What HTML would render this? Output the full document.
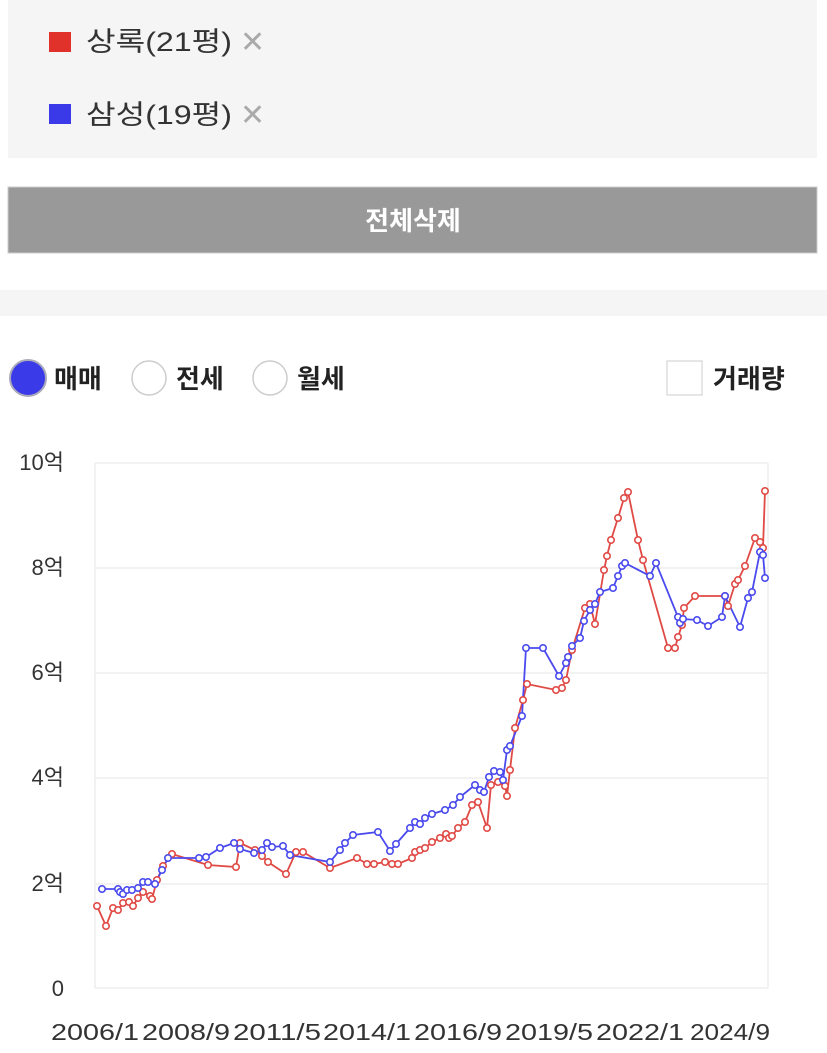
<!DOCTYPE html>
<html><head><meta charset="utf-8">
<style>
html,body{margin:0;padding:0;background:#fff;width:827px;height:1053px;overflow:hidden}
svg{display:block}
text{font-family:"Liberation Sans","Noto Sans CJK KR","NanumGothic",sans-serif}
</style></head>
<body>
<svg width="827" height="1053" viewBox="0 0 827 1053" xmlns="http://www.w3.org/2000/svg">
<rect x="8" y="0" width="809" height="158" fill="#f5f5f5"/>
<rect x="49" y="32" width="22" height="20" fill="#e0312a"/>
<text x="86" y="51" font-size="27" fill="#333" textLength="146" lengthAdjust="spacingAndGlyphs">상록(21평)</text>
<text x="240" y="52" font-size="30" fill="#aaa">✕</text>
<rect x="49" y="104" width="22" height="20" fill="#3a3ae8"/>
<text x="86" y="124" font-size="27" fill="#333" textLength="146" lengthAdjust="spacingAndGlyphs">삼성(19평)</text>
<text x="240" y="125" font-size="30" fill="#aaa">✕</text>
<rect x="8" y="187" width="809" height="66" fill="#999" stroke="#ccc"/>
<text x="413" y="230" font-size="26" font-weight="bold" fill="#fff" text-anchor="middle">전체삭제</text>
<rect x="0" y="290" width="827" height="26" fill="#f5f5f5"/>
<circle cx="28" cy="378" r="18" fill="#3a3ae8" stroke="#aab" stroke-width="2"/>
<text x="54" y="388" font-size="26" font-weight="bold" fill="#222">매매</text>
<circle cx="149" cy="378" r="17" fill="#fff" stroke="#ccc" stroke-width="1.5"/>
<text x="176" y="388" font-size="26" font-weight="bold" fill="#222">전세</text>
<circle cx="270" cy="378" r="17" fill="#fff" stroke="#ccc" stroke-width="1.5"/>
<text x="297" y="388" font-size="26" font-weight="bold" fill="#222">월세</text>
<rect x="667" y="361" width="35" height="34" fill="#fff" stroke="#ccc"/>
<text x="713" y="388" font-size="26" font-weight="bold" fill="#222">거래량</text>
<g stroke="#eee" stroke-width="1.5">
<line x1="95" y1="463" x2="768" y2="463"/><line x1="95" y1="568" x2="768" y2="568"/>
<line x1="95" y1="673" x2="768" y2="673"/><line x1="95" y1="778" x2="768" y2="778"/>
<line x1="95" y1="884" x2="768" y2="884"/><line x1="95" y1="988" x2="768" y2="988"/>
<line x1="95" y1="463" x2="95" y2="988"/><line x1="768" y1="463" x2="768" y2="988"/>
</g>
<g font-size="22" fill="#333" text-anchor="end">
<text x="64" y="470">10억</text><text x="64" y="575">8억</text><text x="64" y="680">6억</text>
<text x="64" y="785">4억</text><text x="64" y="891">2억</text><text x="64" y="996">0</text>
</g>
<g font-size="23" fill="#333" text-anchor="middle">
<text x="95" y="1040" textLength="88" lengthAdjust="spacingAndGlyphs">2006/1</text><text x="186" y="1040" textLength="88" lengthAdjust="spacingAndGlyphs">2008/9</text><text x="277" y="1040" textLength="88" lengthAdjust="spacingAndGlyphs">2011/5</text>
<text x="367" y="1040" textLength="88" lengthAdjust="spacingAndGlyphs">2014/1</text><text x="458" y="1040" textLength="88" lengthAdjust="spacingAndGlyphs">2016/9</text><text x="549" y="1040" textLength="88" lengthAdjust="spacingAndGlyphs">2019/5</text>
<text x="640" y="1040" textLength="88" lengthAdjust="spacingAndGlyphs">2022/1</text><text x="730" y="1040" textLength="80" lengthAdjust="spacingAndGlyphs">2024/9</text>
</g>
<polyline fill="none" stroke="#e04a45" stroke-width="1.8" points="97,906 106,926 113,908 118,910 123,903 129,902 133,906 138,898 143,892 150,896 152,899 157,880 163,866 172,854 208,865 236,867 240,843 255,850 262,856 268,862 286,874 296,852 303,852 330,868 357,858 367,864 374,864 385,862 392,864 398,864 412,858 415,852 420,850 425,848 432,842 440,838 446,834 449,838 452,836 458,828 465,822 472,805 478,802 487,828 491,785 498,782 505,786 507,796 510,770 515,728 523,700 527,684 556,690 562,688 566,680 572,650 585,608 590,604 595,624 604,570 607,556 611,540 618,518 624,498 628,492 638,540 643,560 668,648 675,648 678,637 682,625 684,608 695,596 725,596 728,606 735,584 738,580 745,566 755,538 760,542 763,548 765,491"/>
<polyline fill="none" stroke="#4a4aee" stroke-width="1.8" points="102,889 118,889 120,892 123,894 127,890 132,890 138,888 143,882 148,882 155,884 162,870 168,858 199,858 206,857 220,848 234,843 240,849 254,853 262,850 267,843 272,847 283,846 290,855 330,862 340,850 345,843 353,835 378,832 390,851 396,844 410,828 415,822 420,824 425,818 432,814 445,810 453,805 460,797 475,785 480,790 484,792 489,777 494,771 500,772 503,780 507,750 510,746 522,716 526,648 543,648 559,676 566,663 568,657 572,646 580,638 584,621 590,610 595,604 600,592 613,588 618,576 622,566 625,563 650,576 656,563 678,617 680,623 683,619 697,620 708,626 722,617 725,596 740,627 748,598 752,592 760,552 763,555 765,578"/>
<g id="rd" fill="#fff" stroke="#e04a45" stroke-width="1.6"></g>
<g id="bd" fill="#fff" stroke="#4a4aee" stroke-width="1.6"></g>
</svg>
<script>
var ps=document.querySelectorAll('polyline');
['rd','bd'].forEach(function(id,i){
 var g=document.getElementById(id);
 ps[i].getAttribute('points').trim().split(/\s+/).forEach(function(p){
  var a=p.split(',');var c=document.createElementNS('http://www.w3.org/2000/svg','circle');
  c.setAttribute('cx',a[0]);c.setAttribute('cy',a[1]);c.setAttribute('r','3.2');g.appendChild(c);
 });
});
</script>
</body></html>
